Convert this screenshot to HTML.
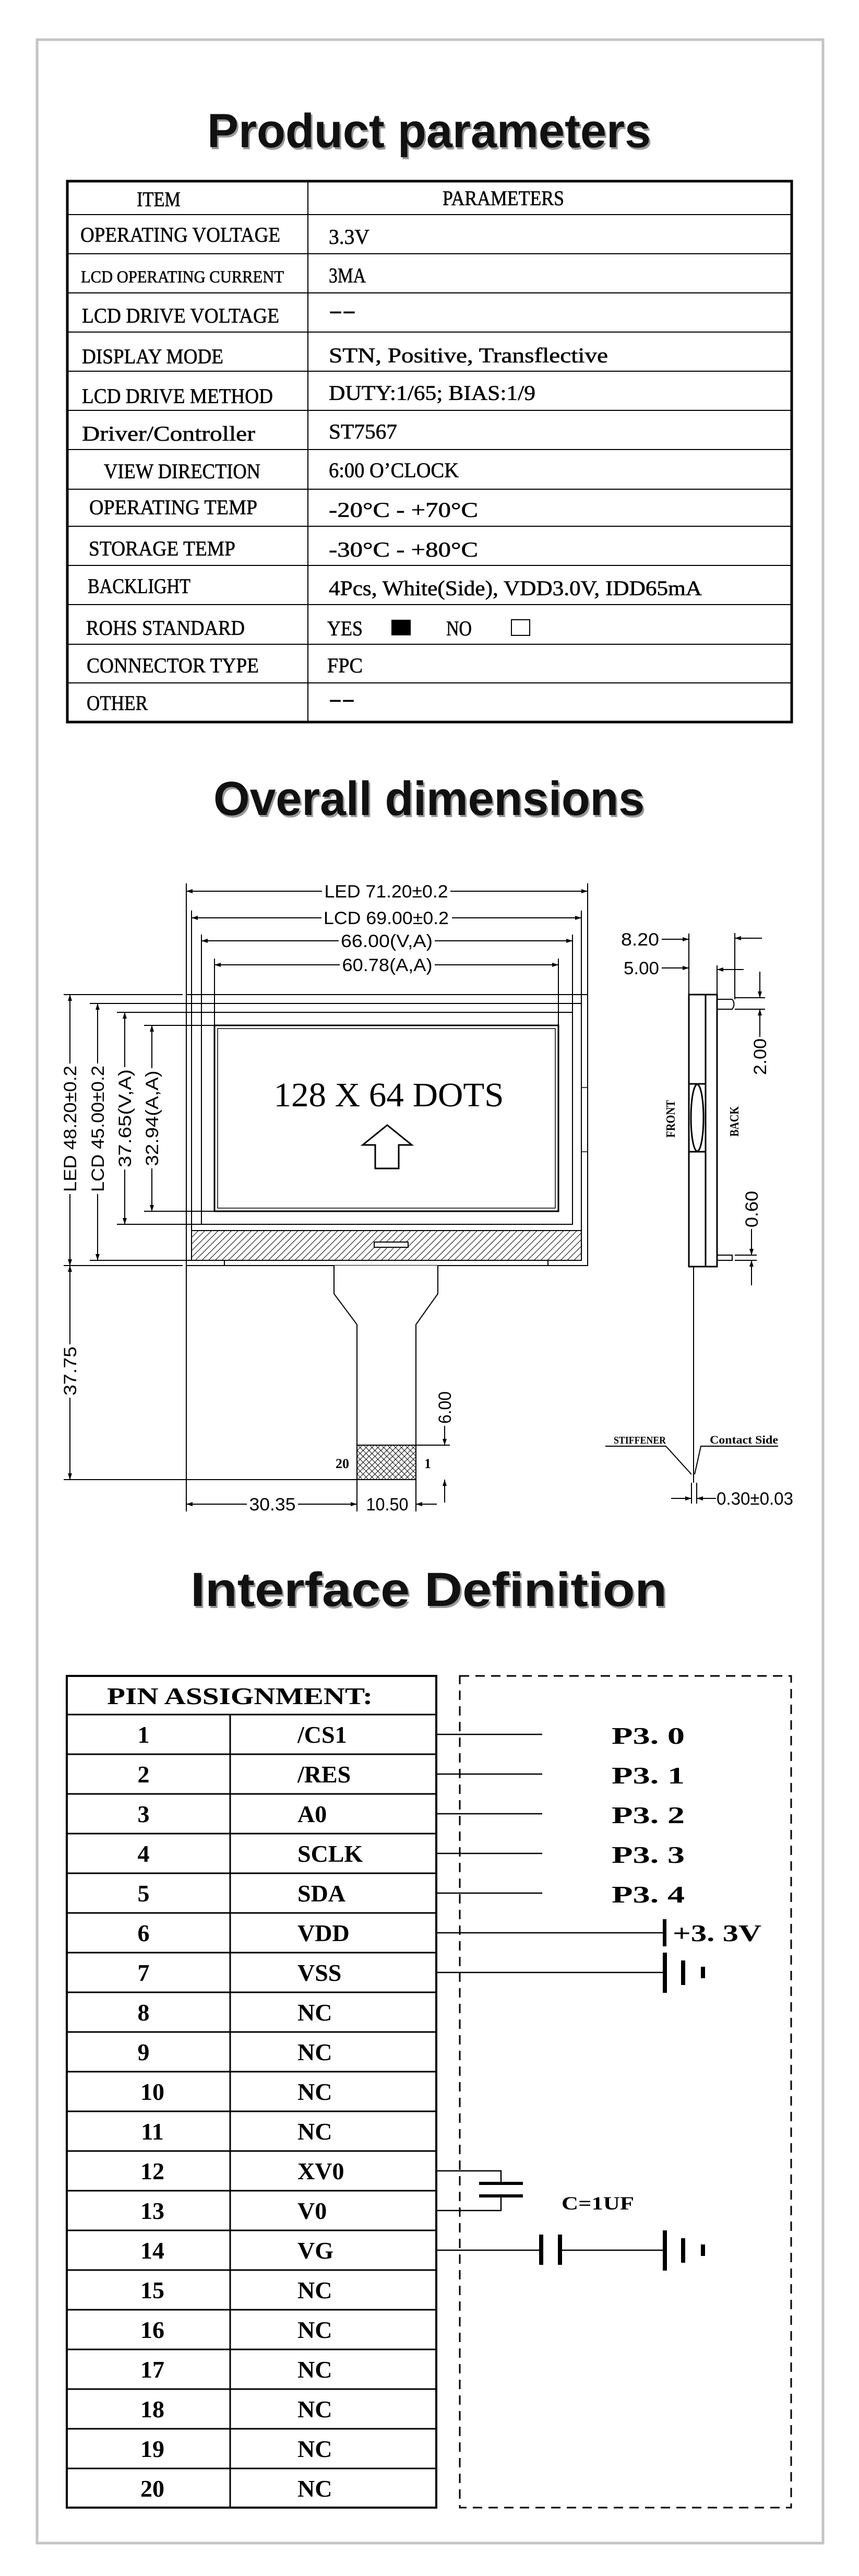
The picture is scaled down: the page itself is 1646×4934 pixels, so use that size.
<!DOCTYPE html>
<html><head><meta charset="utf-8"><style>html,body{margin:0;padding:0;background:#fff}svg{display:block}</style></head>
<body>
<svg width="1646" height="4934" viewBox="0 0 1646 4934" xmlns="http://www.w3.org/2000/svg">
<defs>
<marker id="ar" viewBox="0 0 12 8" refX="12" refY="4" markerWidth="12" markerHeight="8" markerUnits="userSpaceOnUse" orient="auto-start-reverse"><path d="M0,0 L12,4 L0,8 z" fill="#000"/></marker>
<pattern id="hatch" width="9" height="9" patternUnits="userSpaceOnUse" patternTransform="rotate(45)"><rect width="9" height="9" fill="#fff"/><line x1="0" y1="0" x2="0" y2="9" stroke="#000" stroke-width="2"/></pattern>
<pattern id="xhatch" width="8" height="8" patternUnits="userSpaceOnUse" patternTransform="rotate(45)"><rect width="8" height="8" fill="#fff"/><line x1="0" y1="0" x2="0" y2="8" stroke="#000" stroke-width="2"/><line x1="0" y1="0" x2="8" y2="0" stroke="#000" stroke-width="2"/></pattern>
</defs>
<rect width="1646" height="4934" fill="#fff"/>
<rect x="71" y="76" width="1506" height="4795" fill="none" stroke="#c4c4c4" stroke-width="5"/>

<g font-family="Liberation Sans, sans-serif" font-weight="bold" font-size="92">
<text x="400" y="286" textLength="850" lengthAdjust="spacingAndGlyphs" fill="#999">Product parameters</text>
<text x="397" y="282" textLength="850" lengthAdjust="spacingAndGlyphs" fill="#111">Product parameters</text>
<text x="412" y="1565" textLength="826" lengthAdjust="spacingAndGlyphs" fill="#999">Overall dimensions</text>
<text x="409" y="1561" textLength="826" lengthAdjust="spacingAndGlyphs" fill="#111">Overall dimensions</text>
<text x="368" y="3080" textLength="913" lengthAdjust="spacingAndGlyphs" fill="#999">Interface Definition</text>
<text x="365" y="3076" textLength="913" lengthAdjust="spacingAndGlyphs" fill="#111">Interface Definition</text>
</g>

<rect x="129" y="347" width="1388" height="1036" fill="none" stroke="#000" stroke-width="5"/>
<line x1="590" y1="347" x2="590" y2="1383" stroke="#000" stroke-width="2"/>
<g stroke="#000" stroke-width="2">
<line x1="129" y1="411" x2="1517" y2="411"/><line x1="129" y1="486" x2="1517" y2="486"/><line x1="129" y1="561" x2="1517" y2="561"/><line x1="129" y1="636" x2="1517" y2="636"/><line x1="129" y1="711" x2="1517" y2="711"/><line x1="129" y1="786" x2="1517" y2="786"/><line x1="129" y1="861" x2="1517" y2="861"/><line x1="129" y1="937" x2="1517" y2="937"/><line x1="129" y1="1008" x2="1517" y2="1008"/><line x1="129" y1="1083" x2="1517" y2="1083"/><line x1="129" y1="1158" x2="1517" y2="1158"/><line x1="129" y1="1234" x2="1517" y2="1234"/><line x1="129" y1="1308" x2="1517" y2="1308"/>
</g>
<g font-family="Liberation Serif, serif" font-size="40" fill="#000" stroke="#000" stroke-width="0.6">
<text x="262" y="395" textLength="84" lengthAdjust="spacingAndGlyphs">ITEM</text>
<text x="848" y="393" textLength="233" lengthAdjust="spacingAndGlyphs">PARAMETERS</text>
<text x="154" y="463" textLength="383" lengthAdjust="spacingAndGlyphs">OPERATING  VOLTAGE</text>
<text x="630" y="467" textLength="78" lengthAdjust="spacingAndGlyphs">3.3V</text>
<text x="155" y="541" font-size="33" textLength="389" lengthAdjust="spacingAndGlyphs">LCD  OPERATING  CURRENT</text>
<text x="630" y="541" textLength="71" lengthAdjust="spacingAndGlyphs">3MA</text>
<text x="157" y="618" textLength="378" lengthAdjust="spacingAndGlyphs">LCD  DRIVE  VOLTAGE</text>
<text x="630" y="608" textLength="52" lengthAdjust="spacingAndGlyphs">--</text>
<text x="157" y="696" textLength="271" lengthAdjust="spacingAndGlyphs">DISPLAY  MODE</text>
<text x="630" y="694" textLength="535" lengthAdjust="spacingAndGlyphs">STN,  Positive,  Transflective</text>
<text x="157" y="772" textLength="366" lengthAdjust="spacingAndGlyphs">LCD  DRIVE  METHOD</text>
<text x="630" y="766" textLength="396" lengthAdjust="spacingAndGlyphs">DUTY:1/65;  BIAS:1/9</text>
<text x="157" y="844" textLength="332" lengthAdjust="spacingAndGlyphs">Driver/Controller</text>
<text x="630" y="840" textLength="131" lengthAdjust="spacingAndGlyphs">ST7567</text>
<text x="199" y="916" textLength="300" lengthAdjust="spacingAndGlyphs">VIEW  DIRECTION</text>
<text x="630" y="914" textLength="249" lengthAdjust="spacingAndGlyphs">6:00  O’CLOCK</text>
<text x="171" y="985" textLength="322" lengthAdjust="spacingAndGlyphs">OPERATING  TEMP</text>
<text x="630" y="990" textLength="286" lengthAdjust="spacingAndGlyphs">-20°C  -  +70°C</text>
<text x="170" y="1064" textLength="281" lengthAdjust="spacingAndGlyphs">STORAGE  TEMP</text>
<text x="630" y="1066" textLength="286" lengthAdjust="spacingAndGlyphs">-30°C  -  +80°C</text>
<text x="168" y="1136" textLength="197" lengthAdjust="spacingAndGlyphs">BACKLIGHT</text>
<text x="630" y="1140" textLength="715" lengthAdjust="spacingAndGlyphs">4Pcs,  White(Side),  VDD3.0V,  IDD65mA</text>
<text x="165" y="1216" textLength="304" lengthAdjust="spacingAndGlyphs">ROHS  STANDARD</text>
<text x="627" y="1217" textLength="68" lengthAdjust="spacingAndGlyphs">YES</text>
<text x="855" y="1217" textLength="49" lengthAdjust="spacingAndGlyphs">NO</text>
<text x="166" y="1288" textLength="330" lengthAdjust="spacingAndGlyphs">CONNECTOR  TYPE</text>
<text x="627" y="1288" textLength="68" lengthAdjust="spacingAndGlyphs">FPC</text>
<text x="166" y="1360" textLength="117" lengthAdjust="spacingAndGlyphs">OTHER</text>
<text x="630" y="1352" textLength="50" lengthAdjust="spacingAndGlyphs">--</text>
</g>
<rect x="750" y="1187" width="37" height="30" fill="#000"/>
<rect x="980" y="1187" width="35" height="30" fill="none" stroke="#000" stroke-width="2"/>

<g fill="none" stroke="#000" stroke-width="2">
<rect x="357" y="1905" width="769" height="519"/>
<rect x="367" y="1922" width="747" height="492"/>
<rect x="386" y="1939" width="711" height="406"/>
<rect x="411" y="1964" width="659" height="356" stroke-width="3"/>
<rect x="417" y="1970" width="647" height="344" stroke-width="1.5"/>
<rect x="367" y="2357" width="747" height="57" fill="url(#hatch)"/>
<rect x="717" y="2379" width="65" height="10" fill="#fff" stroke-width="2"/>
<rect x="1114" y="2083" width="12" height="123" stroke-width="1.5"/>
<line x1="430" y1="2414" x2="430" y2="2424"/><line x1="1050" y1="2414" x2="1050" y2="2424"/>
<path d="M640,2424 L640,2478 L684,2537 L684,2834 L797,2834 L797,2537 L839,2478 L839,2424" fill="#fff"/>
<rect x="684" y="2768" width="113" height="66" fill="url(#xhatch)"/>
<path d="M742,2155 L789,2193 L764,2193 L764,2238 L719,2238 L719,2193 L695,2193 Z" stroke-width="3"/>
</g>
<text x="745" y="2119" font-family="Liberation Serif, serif" font-size="66" text-anchor="middle" textLength="441" lengthAdjust="spacingAndGlyphs">128  X  64  DOTS</text>
<g font-family="Liberation Serif, serif" font-weight="bold" font-size="26">
<text x="643" y="2812">20</text><text x="813" y="2812">1</text>
</g>

<g stroke="#000" stroke-width="2" fill="none">
<line x1="357" y1="1692" x2="357" y2="1905"/><line x1="1126" y1="1692" x2="1126" y2="1905"/>
<line x1="367" y1="1744" x2="367" y2="1922"/><line x1="1114" y1="1744" x2="1114" y2="1922"/>
<line x1="386" y1="1790" x2="386" y2="1939"/><line x1="1097" y1="1790" x2="1097" y2="1939"/>
<line x1="411" y1="1836" x2="411" y2="1964"/><line x1="1070" y1="1836" x2="1070" y2="1964"/>
<line x1="357" y1="1707" x2="1126" y2="1707" marker-start="url(#ar)" marker-end="url(#ar)"/>
<line x1="367" y1="1758" x2="1114" y2="1758" marker-start="url(#ar)" marker-end="url(#ar)"/>
<line x1="386" y1="1802" x2="1097" y2="1802" marker-start="url(#ar)" marker-end="url(#ar)"/>
<line x1="411" y1="1848" x2="1070" y2="1848" marker-start="url(#ar)" marker-end="url(#ar)"/>
<line x1="122" y1="1905" x2="350" y2="1905"/><line x1="172" y1="1922" x2="367" y2="1922"/>
<line x1="224" y1="1939" x2="386" y2="1939"/><line x1="276" y1="1964" x2="411" y2="1964"/>
<line x1="276" y1="2320" x2="411" y2="2320"/><line x1="224" y1="2345" x2="386" y2="2345"/>
<line x1="172" y1="2414" x2="367" y2="2414"/><line x1="122" y1="2424" x2="350" y2="2424"/>
<line x1="134" y1="1905" x2="134" y2="2424" marker-start="url(#ar)" marker-end="url(#ar)"/>
<line x1="187" y1="1922" x2="187" y2="2414" marker-start="url(#ar)" marker-end="url(#ar)"/>
<line x1="239" y1="1939" x2="239" y2="2345" marker-start="url(#ar)" marker-end="url(#ar)"/>
<line x1="291" y1="1964" x2="291" y2="2320" marker-start="url(#ar)" marker-end="url(#ar)"/>
<line x1="134" y1="2424" x2="134" y2="2834" marker-start="url(#ar)" marker-end="url(#ar)"/>
<line x1="122" y1="2834" x2="684" y2="2834"/>
<line x1="357" y1="2424" x2="357" y2="2895"/><line x1="684" y1="2834" x2="684" y2="2895"/><line x1="797" y1="2834" x2="797" y2="2895"/>
<line x1="357" y1="2881" x2="684" y2="2881" marker-start="url(#ar)" marker-end="url(#ar)"/>
<line x1="837" y1="2881" x2="797" y2="2881" marker-end="url(#ar)"/>
<line x1="797" y1="2768" x2="862" y2="2768"/>
<line x1="852" y1="2728" x2="852" y2="2768" marker-end="url(#ar)"/>
<line x1="852" y1="2878" x2="852" y2="2834" marker-end="url(#ar)"/>
</g>
<!-- white backgrounds for dimension labels -->
<g fill="#fff">
<rect x="617" y="1690" width="246" height="34"/>
<rect x="616" y="1741" width="250" height="34"/>
<rect x="649" y="1785" width="184" height="34"/>
<rect x="651" y="1831" width="182" height="34"/>
<rect x="118" y="2037" width="34" height="250"/>
<rect x="171" y="2037" width="34" height="250"/>
<rect x="223" y="2044" width="34" height="196"/>
<rect x="275" y="2046" width="34" height="192"/>
<rect x="118" y="2575" width="34" height="102"/>
<rect x="473" y="2864" width="98" height="34"/>
<rect x="698" y="2864" width="88" height="34"/>
<rect x="836" y="2661" width="34" height="70"/>
</g>
<g font-family="Liberation Sans, sans-serif" font-size="34" fill="#000" text-anchor="middle">
<text x="740" y="1719" textLength="237" lengthAdjust="spacingAndGlyphs">LED 71.20±0.2</text>
<text x="740" y="1770" textLength="240" lengthAdjust="spacingAndGlyphs">LCD 69.00±0.2</text>
<text x="741" y="1814" textLength="176" lengthAdjust="spacingAndGlyphs">66.00(V,A)</text>
<text x="742" y="1860" textLength="173" lengthAdjust="spacingAndGlyphs">60.78(A,A)</text>
<text transform="translate(146,2162) rotate(-90)" textLength="242" lengthAdjust="spacingAndGlyphs">LED 48.20±0.2</text>
<text transform="translate(199,2162) rotate(-90)" textLength="242" lengthAdjust="spacingAndGlyphs">LCD 45.00±0.2</text>
<text transform="translate(251,2142) rotate(-90)" textLength="188" lengthAdjust="spacingAndGlyphs">37.65(V,A)</text>
<text transform="translate(303,2142) rotate(-90)" textLength="183" lengthAdjust="spacingAndGlyphs">32.94(A,A)</text>
<text transform="translate(146,2626) rotate(-90)" textLength="94" lengthAdjust="spacingAndGlyphs">37.75</text>
<text x="522" y="2893" textLength="89" lengthAdjust="spacingAndGlyphs">30.35</text>
<text x="742" y="2893" textLength="81" lengthAdjust="spacingAndGlyphs">10.50</text>
<text transform="translate(864,2696) rotate(-90)" textLength="62" lengthAdjust="spacingAndGlyphs">6.00</text>
</g>

<g fill="none" stroke="#000" stroke-width="3">
<rect x="1320" y="1905" width="54" height="521"/>
<line x1="1352" y1="1905" x2="1352" y2="2426"/>
<line x1="1320" y1="2076" x2="1352" y2="2076"/><line x1="1320" y1="2206" x2="1352" y2="2206"/>
<ellipse cx="1336" cy="2141" rx="12" ry="64"/>
<path d="M1374,1914 L1403,1914 Q1410,1923 1403,1933 L1374,1933" stroke-width="2"/>
<path d="M1374,2404 L1403,2404 L1403,2414 L1374,2414" stroke-width="2"/>
<line x1="1329" y1="2426" x2="1329" y2="2840" stroke-width="2"/>
</g>
<g stroke="#000" stroke-width="2" fill="none">
<line x1="1320" y1="1788" x2="1320" y2="1905"/>
<line x1="1268" y1="1799" x2="1320" y2="1799" marker-end="url(#ar)"/>
<line x1="1268" y1="1854" x2="1320" y2="1854" marker-end="url(#ar)"/>
<line x1="1374" y1="1849" x2="1374" y2="1905"/>
<line x1="1425" y1="1857" x2="1374" y2="1857" marker-end="url(#ar)"/>
<line x1="1408" y1="1787" x2="1408" y2="1914"/>
<line x1="1460" y1="1797" x2="1408" y2="1797" marker-end="url(#ar)"/>
<line x1="1408" y1="1911" x2="1466" y2="1911"/><line x1="1408" y1="1933" x2="1466" y2="1933"/>
<line x1="1456" y1="1861" x2="1456" y2="1911" marker-end="url(#ar)"/>
<line x1="1456" y1="1986" x2="1456" y2="1933" marker-end="url(#ar)"/>
<line x1="1408" y1="2404" x2="1450" y2="2404"/><line x1="1408" y1="2414" x2="1450" y2="2414"/>
<line x1="1440" y1="2354" x2="1440" y2="2404" marker-end="url(#ar)"/>
<line x1="1440" y1="2462" x2="1440" y2="2414" marker-end="url(#ar)"/>
<path d="M1160,2770 L1276,2770 L1325,2824"/>
<path d="M1491,2770 L1343,2770 L1331,2824"/>
<line x1="1286" y1="2870" x2="1325" y2="2870" marker-end="url(#ar)"/>
<line x1="1372" y1="2870" x2="1335" y2="2870" marker-end="url(#ar)"/>
<line x1="1325" y1="2840" x2="1325" y2="2880"/><line x1="1335" y1="2840" x2="1335" y2="2880"/>
</g>
<g font-family="Liberation Sans, sans-serif" font-size="34" fill="#000">
<text x="1190" y="1811" textLength="73" lengthAdjust="spacingAndGlyphs">8.20</text>
<text x="1195" y="1866" textLength="68" lengthAdjust="spacingAndGlyphs">5.00</text>
<text transform="translate(1468,2024) rotate(-90)" text-anchor="middle" textLength="70" lengthAdjust="spacingAndGlyphs">2.00</text>
<text transform="translate(1452,2316) rotate(-90)" text-anchor="middle" textLength="70" lengthAdjust="spacingAndGlyphs">0.60</text>
<text x="1373" y="2882" textLength="147" lengthAdjust="spacingAndGlyphs">0.30±0.03</text>
</g>
<g font-family="Liberation Serif, serif" font-weight="bold" font-size="24" fill="#000">
<text transform="translate(1293,2143) rotate(-90)" text-anchor="middle" textLength="72" lengthAdjust="spacingAndGlyphs">FRONT</text>
<text transform="translate(1415,2148) rotate(-90)" text-anchor="middle" textLength="58" lengthAdjust="spacingAndGlyphs">BACK</text>
<text x="1176" y="2765" font-size="20" textLength="100" lengthAdjust="spacingAndGlyphs">STIFFENER</text>
<text x="1360" y="2765" font-size="22" textLength="131" lengthAdjust="spacingAndGlyphs">Contact Side</text>
</g>

<rect x="128" y="3210" width="708" height="1593" fill="none" stroke="#000" stroke-width="4"/>
<line x1="441" y1="3284" x2="441" y2="4803" stroke="#000" stroke-width="3"/>
<g stroke="#000" stroke-width="3">
<line x1="128" y1="3284" x2="836" y2="3284"/><line x1="128" y1="3360" x2="836" y2="3360"/><line x1="128" y1="3436" x2="836" y2="3436"/><line x1="128" y1="3512" x2="836" y2="3512"/><line x1="128" y1="3588" x2="836" y2="3588"/><line x1="128" y1="3664" x2="836" y2="3664"/><line x1="128" y1="3740" x2="836" y2="3740"/><line x1="128" y1="3816" x2="836" y2="3816"/><line x1="128" y1="3892" x2="836" y2="3892"/><line x1="128" y1="3968" x2="836" y2="3968"/><line x1="128" y1="4044" x2="836" y2="4044"/><line x1="128" y1="4120" x2="836" y2="4120"/><line x1="128" y1="4196" x2="836" y2="4196"/><line x1="128" y1="4272" x2="836" y2="4272"/><line x1="128" y1="4348" x2="836" y2="4348"/><line x1="128" y1="4424" x2="836" y2="4424"/><line x1="128" y1="4500" x2="836" y2="4500"/><line x1="128" y1="4576" x2="836" y2="4576"/><line x1="128" y1="4652" x2="836" y2="4652"/><line x1="128" y1="4728" x2="836" y2="4728"/>
</g>
<rect x="881" y="3210" width="635" height="1593" fill="none" stroke="#000" stroke-width="3" stroke-dasharray="18,12"/>
<g font-family="Liberation Serif, serif" font-weight="bold" font-size="46" fill="#000">
<text x="205" y="3264" textLength="509" lengthAdjust="spacingAndGlyphs">PIN ASSIGNMENT:</text>
<g text-anchor="middle">
<text x="275" y="3338">1</text><text x="275" y="3414">2</text><text x="275" y="3490">3</text><text x="275" y="3566">4</text><text x="275" y="3642">5</text><text x="275" y="3718">6</text><text x="275" y="3794">7</text><text x="275" y="3870">8</text><text x="275" y="3946">9</text>
<text x="292" y="4022">10</text><text x="292" y="4098">11</text><text x="292" y="4174">12</text><text x="292" y="4250">13</text><text x="292" y="4326">14</text><text x="292" y="4402">15</text><text x="292" y="4478">16</text><text x="292" y="4554">17</text><text x="292" y="4630">18</text><text x="292" y="4706">19</text><text x="292" y="4782">20</text>
</g>
<text x="570" y="3338">/CS1</text><text x="570" y="3414">/RES</text><text x="570" y="3490">A0</text><text x="570" y="3566">SCLK</text><text x="570" y="3642">SDA</text><text x="570" y="3718">VDD</text><text x="570" y="3794">VSS</text><text x="570" y="3870">NC</text><text x="570" y="3946">NC</text><text x="570" y="4022">NC</text><text x="570" y="4098">NC</text><text x="570" y="4174">XV0</text><text x="570" y="4250">V0</text><text x="570" y="4326">VG</text><text x="570" y="4402">NC</text><text x="570" y="4478">NC</text><text x="570" y="4554">NC</text><text x="570" y="4630">NC</text><text x="570" y="4706">NC</text><text x="570" y="4782">NC</text>
<text x="1172" y="3340" textLength="140" lengthAdjust="spacingAndGlyphs">P3. 0</text>
<text x="1172" y="3416" textLength="140" lengthAdjust="spacingAndGlyphs">P3. 1</text>
<text x="1172" y="3492" textLength="140" lengthAdjust="spacingAndGlyphs">P3. 2</text>
<text x="1172" y="3568" textLength="140" lengthAdjust="spacingAndGlyphs">P3. 3</text>
<text x="1172" y="3644" textLength="140" lengthAdjust="spacingAndGlyphs">P3. 4</text>
<text x="1289" y="3718" textLength="170" lengthAdjust="spacingAndGlyphs">+3. 3V</text>
<text x="1076" y="4232" font-size="36" textLength="139" lengthAdjust="spacingAndGlyphs">C=1UF</text>
</g>
<g stroke="#000" stroke-width="2.5" fill="none">
<line x1="836" y1="3322" x2="1039" y2="3322"/><line x1="836" y1="3398" x2="1039" y2="3398"/><line x1="836" y1="3474" x2="1039" y2="3474"/><line x1="836" y1="3550" x2="1039" y2="3550"/><line x1="836" y1="3626" x2="1039" y2="3626"/>
<line x1="836" y1="3702" x2="1273" y2="3702"/><line x1="836" y1="3778" x2="1273" y2="3778"/>
<path d="M836,4158 L960,4158 L960,4182"/><path d="M836,4234 L960,4234 L960,4206"/>
<line x1="836" y1="4310" x2="1037" y2="4310"/><line x1="1073" y1="4310" x2="1273" y2="4310"/>
</g>
<g fill="#000">
<rect x="1270" y="3676" width="7" height="52"/>
<rect x="1270" y="3740" width="8" height="77"/><rect x="1305" y="3755" width="8" height="47"/><rect x="1343" y="3767" width="8" height="22"/>
<rect x="1270" y="4272" width="8" height="77"/><rect x="1305" y="4287" width="8" height="47"/><rect x="1343" y="4299" width="8" height="22"/>
<rect x="918" y="4179" width="84" height="6"/><rect x="918" y="4203" width="84" height="6"/>
<rect x="1033" y="4280" width="8" height="58"/><rect x="1069" y="4280" width="8" height="58"/>
</g>
</svg>
</body></html>
